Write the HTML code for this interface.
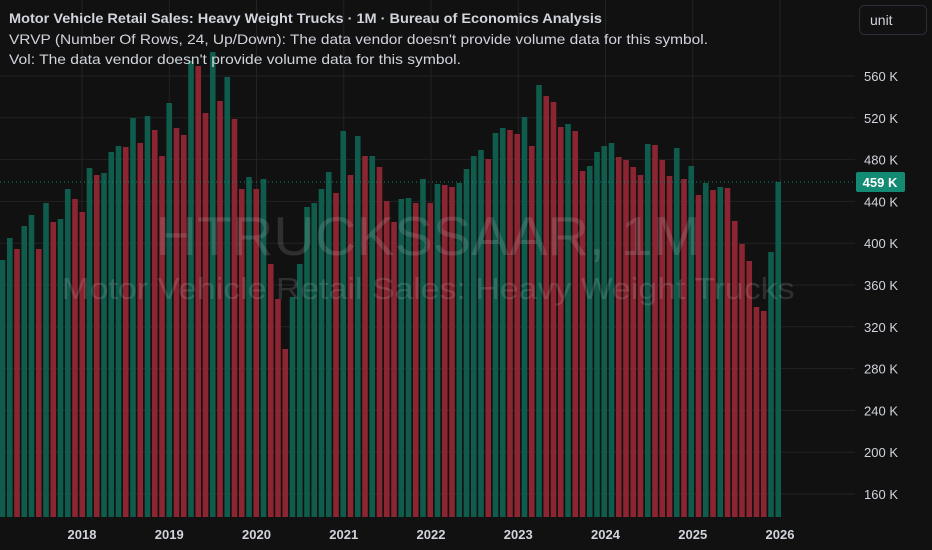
<!DOCTYPE html>
<html><head><meta charset="utf-8"><style>
html,body{margin:0;padding:0;background:#111111;}
body{width:932px;height:550px;overflow:hidden;font-family:"Liberation Sans",sans-serif;}
</style></head><body>
<svg id="s" width="932" height="550" xmlns="http://www.w3.org/2000/svg" style="position:absolute;left:0;top:0">
<rect width="932" height="550" fill="#111111"/>
<g id="grid"></g>
<g id="bars"></g>
<text x="428" y="255" font-size="55" fill="#ffffff" fill-opacity="0.13" text-anchor="middle" textLength="545" lengthAdjust="spacingAndGlyphs" font-family="Liberation Sans, sans-serif">HTRUCKSSAAR, 1M</text>
<text x="428" y="299" font-size="31" fill="#ffffff" fill-opacity="0.13" text-anchor="middle" textLength="733" lengthAdjust="spacingAndGlyphs" font-family="Liberation Sans, sans-serif">Motor Vehicle Retail Sales: Heavy Weight Trucks</text>
<line x1="0" y1="182" x2="855" y2="182" stroke="#13846f" stroke-width="1" stroke-dasharray="1,3"/>
<g id="ylab" font-size="13" fill="#d1d4dc"></g>
<rect x="856" y="172" width="49" height="20" rx="2" fill="#138a73"/>
<text x="880" y="187" font-size="13" font-weight="bold" fill="#ffffff" text-anchor="middle">459 K</text>
<g id="xlab" font-size="13" font-weight="bold" fill="#d1d4dc" text-anchor="middle"></g>
<text x="9" y="23" font-size="14" font-weight="bold" fill="#d1d4dc" textLength="593" lengthAdjust="spacingAndGlyphs">Motor Vehicle Retail Sales: Heavy Weight Trucks · 1M · Bureau of Economics Analysis</text>
<text x="9" y="44" font-size="14" fill="#d1d4dc" textLength="699" lengthAdjust="spacingAndGlyphs">VRVP (Number Of Rows, 24, Up/Down): The data vendor doesn't provide volume data for this symbol.</text>
<text x="9" y="64" font-size="14" fill="#d1d4dc" textLength="452" lengthAdjust="spacingAndGlyphs">Vol: The data vendor doesn't provide volume data for this symbol.</text>
<rect x="859.5" y="5.5" width="67" height="29" rx="5" fill="#111111" stroke="#2a2e39"/>
<text x="870" y="25" font-size="14" fill="#d1d4dc">unit</text>
</svg>
<script>
var d="G260 G238 R249 G226 G215 R249 G203 R222 G219 G189 R199 R212 G168 R175 G173 G152 G146 R147 G118 R143 G116 R130 R156 G103 R128 R135 G61 R66 R113 G52 R101 G77 R119 R189 G177 R189 G179 R264 R299 R349 G297 G264 G207 G203 G189 G172 R193 G131 R175 G136 R156 G156 R167 R201 R222 G199 G198 R203 G179 R203 G184 R185 R187 G183 G169 G156 G150 R159 G133 G128 R130 R134 G117 R146 G85 R96 R102 R127 G124 R131 R171 G166 G152 G146 G143 R157 R160 R167 R175 G144 R145 R160 R176 G148 R179 G166 R195 G183 R190 G187 R188 R221 R244 R261 R307 R311 G252 G182".split(" ");
var ns="http://www.w3.org/2000/svg";
function el(t,a,p,txt){var e=document.createElementNS(ns,t);for(var k in a)e.setAttribute(k,a[k]);if(txt)e.textContent=txt;document.getElementById(p).appendChild(e);}
for(var v=160;v<=560;v+=40){var y=76+(560-v)*1.045;el("line",{x1:0,y1:y,x2:855,y2:y,stroke:"#232323","stroke-width":1},"grid");
 el("text",{x:898,y:y+5,"text-anchor":"end"},"ylab",v+" K");}
for(var i=0;i<9;i++){var x=82+i*87.25;el("line",{x1:x,y1:0,x2:x,y2:517,stroke:"#232323","stroke-width":1},"grid");el("text",{x:x,y:539},"xlab",""+(2018+i));}
for(var i=0;i<d.length;i++){var c=2.5+i*7.25,t=+d[i].slice(1);el("rect",{x:c-2.8,y:t,width:5.6,height:517-t,fill:d[i][0]=="G"?"#0f5c4d":"#8a2531"},"bars");}
</script>
</body></html>
